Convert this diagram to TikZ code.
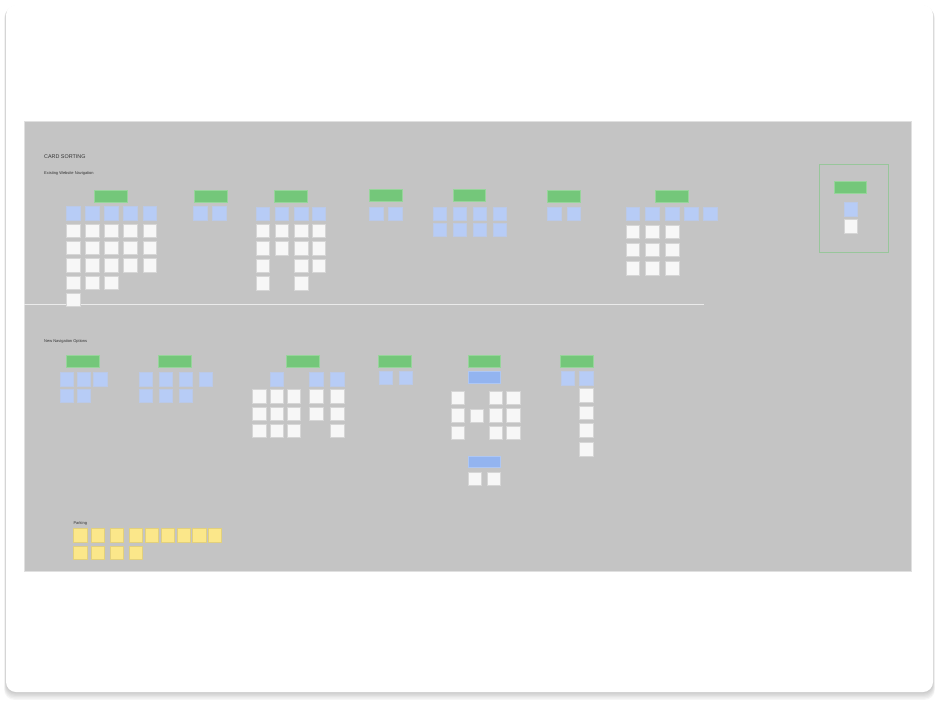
\documentclass[tikz,border=0pt]{standalone}
\usepackage{fontspec}
\setmainfont{Liberation Sans}
\usepackage{xcolor}
\usepackage{tikz}
\usetikzlibrary{positioning}
\definecolor{board}{HTML}{C4C4C4}
\definecolor{hdrgreen}{HTML}{74C77A}
\definecolor{cardblue}{HTML}{B7CCF6}
\definecolor{bannerblue}{HTML}{93B4F0}
\definecolor{cardwhite}{HTML}{F7F7F7}
\definecolor{cardyellow}{HTML}{FBE78A}
\definecolor{inkgrey}{HTML}{333333}
\tikzset{ hdr/.style = {rectangle, fill=hdrgreen, draw=hdrgreen!75!white, line width=0.4pt, minimum width=32.7pt, minimum height=11.7pt, inner sep=0pt} }
\tikzset{ banner/.style = {hdr, fill=bannerblue, draw=bannerblue!75!white} }
\tikzset{ card/.style = {rectangle, minimum width=13.4pt, minimum height=13.4pt, inner sep=0pt, anchor=north west, line width=0.3pt} }
\tikzset{ bluecard/.style = {card, fill=cardblue, draw=cardblue!92!black!80!white} }
\tikzset{ whitecard/.style = {card, fill=cardwhite, draw=black!16} }
\tikzset{ yellowcard/.style = {card, fill=cardyellow, draw=cardyellow!90!black} }
\tikzset{ heading/.style = {anchor=west, inner sep=0pt, text=inkgrey} }

\begin{document}
\begin{tikzpicture}[x=1pt,y=-1pt]
\useasboundingbox (0,0) rectangle (940,706);
\foreach \s in {1,...,6}
  \fill[black, opacity=0.035, rounded corners=10pt] (6-0.3*\s,5+0.5*\s) rectangle (933+0.3*\s,692+1.3*\s);
\fill[white, rounded corners=10pt] (6,5) rectangle (933,692);
\node[rectangle, fill=board, draw=black!12, line width=0.4pt, minimum width=886.7pt, minimum height=450pt, inner sep=0pt, anchor=north west] (board) at (24,121) {};
\draw[line width=0.8pt, black!8] (24,304) coordinate (divl) -- (704,304) coordinate (divr);

\node[heading, font=\fontsize{5.4}{6.5}\selectfont] (title) at (44,156.5) {CARD SORTING};
\node[heading, font=\fontsize{4}{5}\selectfont] (existing) at (44,173) {Existing Website Navigation};
\node[heading, font=\fontsize{4}{5}\selectfont] (newnav) at (44,341) {New Navigation Options};
\node[heading, font=\fontsize{4}{5}\selectfont] (parking) at (73.3,523.3) {Parking};

% existing navigation
\node[hdr] (hdr1) at (111,196) {};
\node[hdr] (hdr2) at (211,196) {};
\node[hdr] (hdr3) at (290.7,196) {};
\node[hdr] (hdr4) at (385.5,195.5) {};
\node[hdr] (hdr5) at (469.3,195.5) {};
\node[hdr] (hdr6) at (564,196) {};
\node[hdr] (hdr7) at (672,196) {};

\foreach \x/\n [count=\c] in {66.3/6,85.3/5,104.3/5,123.3/4,142.7/4} {
  \node[bluecard] (a\c) at (\x,206.3) {};
  \foreach \r in {2,...,\n}
    \node[whitecard] (a\c-\r) at (\x,206.3+17.35*\r-17.35) {};
}
\node[bluecard] (b1) at (193.3,206.3) {};
\node[bluecard] (b2) at (212.3,206.3) {};
\foreach \x/\n [count=\c] in {256/5,275/3,294.3/5,312/4} {
  \node[bluecard] (c\c) at (\x,206.7) {};
  \foreach \r in {2,...,\n}
    \node[whitecard] (c\c-\r) at (\x,206.7+17.35*\r-17.35) {};
}
\node[bluecard] (d1) at (369.3,206.7) {};
\node[bluecard] (d2) at (388.3,206.7) {};
\foreach \x [count=\c] in {432.7,452.7,472.7,492.7} {
  \node[bluecard] (e\c) at (\x,206.7) {};
  \node[bluecard] (e\c-2) at (\x,223) {};
}
\node[bluecard] (f1) at (547.3,206.7) {};
\node[bluecard] (f2) at (567,206.7) {};
\foreach \x [count=\c] in {626,645.3,665.3,684.3,703.3}
  \node[bluecard] (g\c) at (\x,206.7) {};
\foreach \x [count=\c] in {626,645.3,665.3}
  \foreach \y [count=\r] in {224.7,243,261.3}
    \node[whitecard] (g\c-\r) at (\x,\y) {};

\node[rectangle, draw=hdrgreen!55!board, line width=0.5pt, minimum width=68.4pt, minimum height=87.4pt, inner sep=0pt, anchor=north west] (spare) at (819.3,164.3) {};
\node[hdr] (hdr8) at (850.3,187) {};
\node[bluecard] (h1) at (843.7,202.3) {};
\node[whitecard] (h2) at (843.7,219.3) {};

% new navigation options
\node[hdr] (nhdr1) at (83,361) {};
\node[hdr] (nhdr2) at (175,361) {};
\node[hdr] (nhdr3) at (303,361) {};
\node[hdr] (nhdr4) at (394.7,361) {};
\node[hdr] (nhdr5) at (484.3,361) {};
\node[hdr] (nhdr6) at (577,361) {};

\foreach \x [count=\c] in {60,76.7,93.3}
  \node[bluecard] (p\c) at (\x,372.3) {};
\foreach \x [count=\c] in {60,76.7}
  \node[bluecard] (p\c-2) at (\x,389) {};
\foreach \x [count=\c] in {139,159,179,199}
  \node[bluecard] (q\c) at (\x,372.3) {};
\foreach \x [count=\c] in {139,159,179}
  \node[bluecard] (q\c-2) at (\x,389) {};

\foreach \x [count=\c] in {269.7,309.3,330.3}
  \node[bluecard] (r\c) at (\x,372.3) {};
\foreach \x/\n [count=\c] in {252.3/3,269.7/3,286.7/3,309.3/2,330.3/3}
  \foreach \r in {1,...,\n}
    \node[whitecard] (r\c-\r) at (\x,372+17.35*\r) {};

\node[bluecard] (s1) at (378.7,371) {};
\node[bluecard] (s2) at (398.7,371) {};

\node[banner] (team) at (484.3,377.2) {};
\foreach \x [count=\c] in {450.7,489,506.3}
  \foreach \y [count=\r] in {390.7,408.3,426}
    \node[whitecard] (t\c-\r) at (\x,\y) {};
\node[whitecard] (t4-1) at (470,409) {};
\node[banner] (office) at (484.3,461.8) {};
\node[whitecard] (u1) at (468,472) {};
\node[whitecard] (u2) at (487,472) {};

\node[bluecard] (v1) at (561,371.3) {};
\node[bluecard] (v2) at (579.3,371.3) {};
\foreach \y [count=\r] in {388.3,405.7,423.3,442.3}
  \node[whitecard] (v2-\r) at (579.3,\y) {};

% parking
\foreach \x [count=\c] in {73.3,91,110,129,145,160.7,176.7,192.3,208}
  \node[yellowcard] (y\c) at (\x,528.3) {};
\foreach \x [count=\c] in {73.3,91,110,129}
  \node[yellowcard] (y\c-2) at (\x,546) {};
\end{tikzpicture}
\end{document}
